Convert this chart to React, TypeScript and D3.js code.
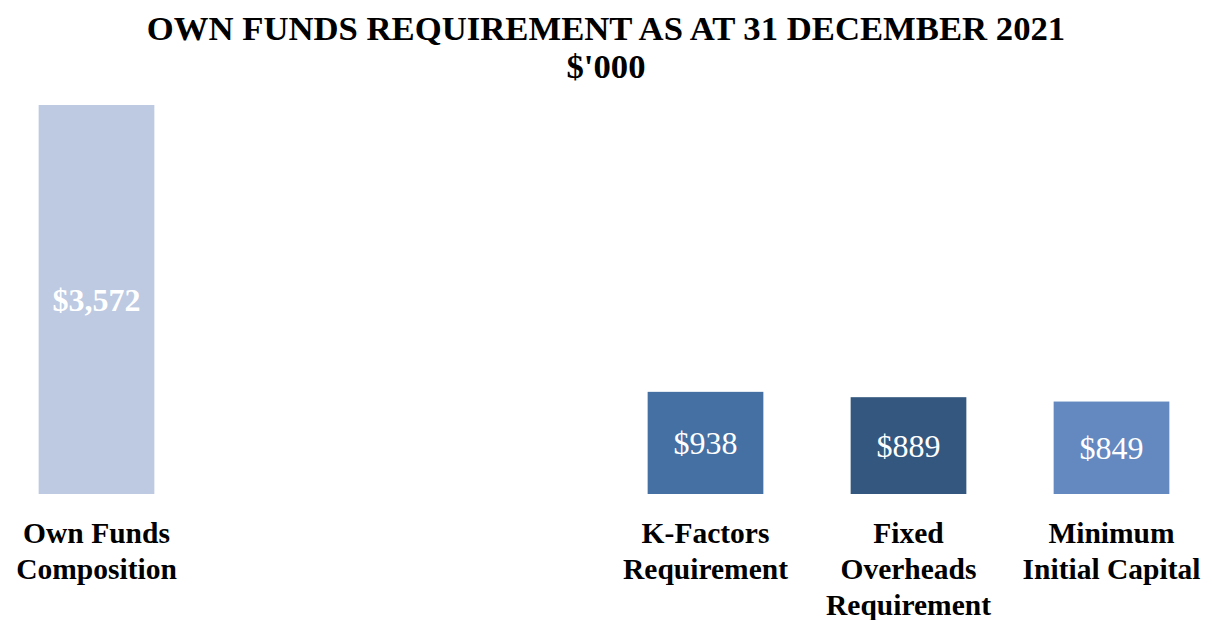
import React from "react";
import * as d3 from "d3";

const categories: string[][] = [
  ["Own Funds", "Composition"],
  [],
  [],
  ["K-Factors", "Requirement"],
  ["Fixed", "Overheads", "Requirement"],
  ["Minimum", "Initial Capital"],
];
const values: (number | null)[] = [3572, null, null, 938, 889, 849];
const valueLabels: string[] = ["$3,572", "", "", "$938", "$889", "$849"];
const colors: string[] = ["#BDCAE2", "", "", "#4470A3", "#33577F", "#6489C1"];
const titleLines: string[] = ["OWN FUNDS REQUIREMENT AS AT 31 DECEMBER 2021", "$'000"];

const W = 1212;
const H = 620;
const FONT = "'Liberation Serif', 'Times New Roman', serif";

export default function App() {
  const x = d3
    .scaleBand<number>()
    .domain(d3.range(categories.length))
    .range([-5, 1213])
    .paddingInner(0.43)
    .paddingOuter(0.215);
  const y = d3.scaleLinear().domain([0, 3572]).range([494, 105]);

  return (
    <svg
      width={W}
      height={H}
      style={{ position: "absolute", left: 0, top: 0, background: "#fff" }}
      fontFamily={FONT}
    >
      {titleLines.map((t, i) => (
        <text
          key={i}
          x={606}
          y={40 + i * 38}
          textAnchor="middle"
          fontWeight="bold"
          fontSize={34.7}
          fill="#000"
        >
          {t}
        </text>
      ))}
      {values.map((v, i) =>
        v == null ? null : (
          <g key={i}>
            <rect
              x={x(i)!}
              y={y(v)}
              width={x.bandwidth()}
              height={y(0) - y(v)}
              fill={colors[i]}
            />
            <text
              x={x(i)! + x.bandwidth() / 2}
              y={(y(v) + y(0)) / 2}
              dy="0.35em"
              textAnchor="middle"
              fontSize={32}
              fontWeight={i === 0 ? "bold" : "normal"}
              fill="#fff"
            >
              {valueLabels[i]}
            </text>
          </g>
        )
      )}
      {categories.map((lines, i) =>
        lines.map((l, j) => (
          <text
            key={`${i}-${j}`}
            x={x(i)! + x.bandwidth() / 2}
            y={543 + j * 36}
            textAnchor="middle"
            fontWeight="bold"
            fontSize={29.5}
            fill="#000"
          >
            {l}
          </text>
        ))
      )}
    </svg>
  );
}
